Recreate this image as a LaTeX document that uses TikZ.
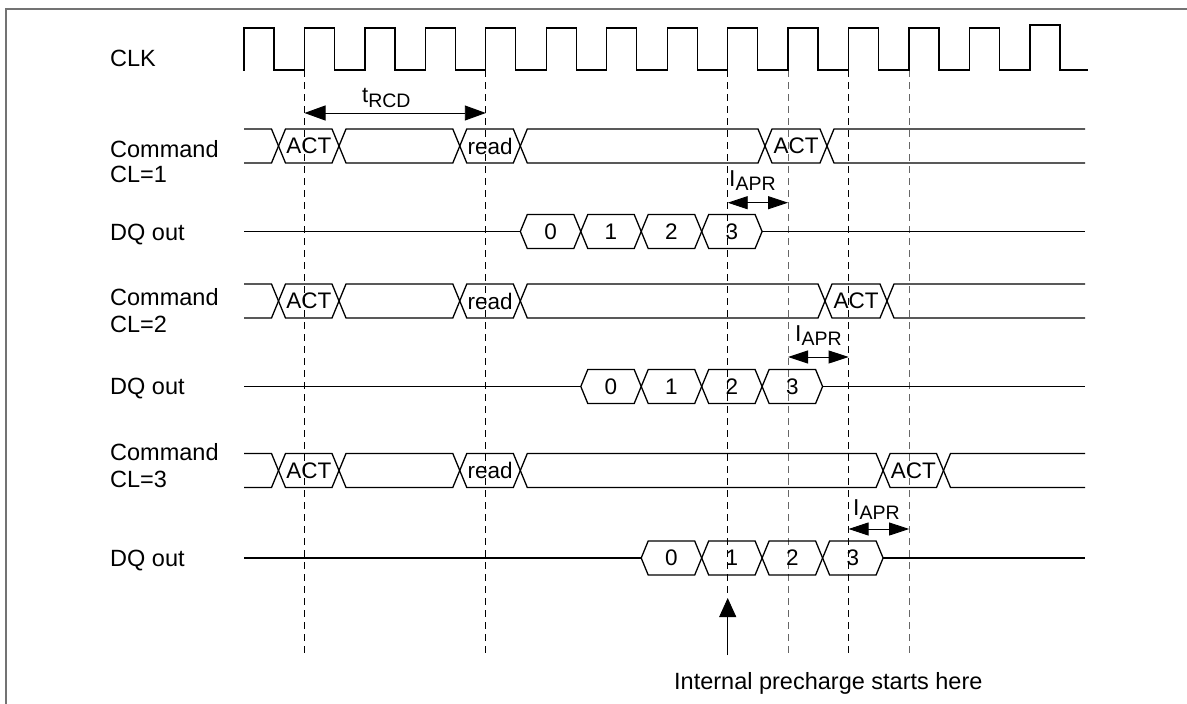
\documentclass[tikz,border=0pt]{standalone}
\usepackage{fontspec}
\setmainfont{Liberation Sans}
\usetikzlibrary{arrows.meta}

% crossing points of the buses
\def\cA{278.5}\def\cB{339}\def\cC{399.4}\def\cD{459.8}\def\cE{520.3}
\def\cF{580.8}\def\cG{641.2}\def\cH{701.7}\def\cI{762.1}\def\cJ{822.6}
\def\cK{883.1}\def\cL{943.5}
\def\busL{244}\def\busR{1085}

\newcommand{\hexcell}[5]{%
  \draw[sigline] (#1,#3) -- (#1+7,#3-17) -- (#2-7,#3-17) -- (#2,#3) -- (#2-7,#3+17) -- (#1+7,#3+17) -- cycle;
  \node[celltext] (#4) at ({(#1+#2)/2},#3) {#5};}
\newcommand{\hexwire}[3]{%
  \draw[sigline] (#1,#3) -- (#1+7,#3-17) -- (#2-7,#3-17) -- (#2,#3) -- (#2-7,#3+17) -- (#1+7,#3+17) -- cycle;}
\newcommand{\busopenL}[2]{%
  \draw[sigline] (\busL,#2-17) -- (#1-7,#2-17) -- (#1,#2) -- (#1-7,#2+17) -- (\busL,#2+17);}
\newcommand{\busopenR}[2]{%
  \draw[sigline] (\busR,#2-17) -- (#1+7,#2-17) -- (#1,#2) -- (#1+7,#2+17) -- (\busR,#2+17);}

\tikzset{
  sigline/.style={line width=1.3pt, line join=miter},
  celltext/.style={inner sep=0pt, font=\fontsize{22.5}{22.5}\selectfont},
  lbl/.style={inner sep=0pt, anchor=base west, font=\fontsize{23.5}{23.5}\selectfont},
  dashv/.style={line width=0.9pt, dash pattern=on 7pt off 5pt},
  dimarrow/.style={line width=0.9pt, {Triangle[length=20pt,width=13pt]}-{Triangle[length=20pt,width=13pt]}},
  framel/.style={line width=1.6pt, draw=black!55},
}

\begin{document}
\begin{tikzpicture}[x=1pt,y=-1pt]
\useasboundingbox (0,0) rectangle (1187,704);
\draw[framel] (6,704) -- (6,9) -- (1187,9);

% labels
\node[lbl] (lclk) at (110,66) {CLK};
\node[lbl] (lcmd1) at (110,157) {Command};
\node[lbl] (lcl1) at (110,182) {CL=1};
\node[lbl] (ldq1) at (110,240) {DQ out};
\node[lbl] (lcmd2) at (110,305) {Command};
\node[lbl] (lcl2) at (110,332) {CL=2};
\node[lbl] (ldq2) at (110,394) {DQ out};
\node[lbl] (lcmd3) at (110,460) {Command};
\node[lbl] (lcl3) at (110,487) {CL=3};
\node[lbl] (ldq3) at (110,566) {DQ out};

% dashed reference lines
\draw[dashv] (304.5,70) -- (304.5,655);
\draw[dashv] (485.8,70) -- (485.8,655);
\draw[dashv] (727.7,70) -- (727.7,598);
\draw[dashv, draw=black!60] (788.1,70) -- (788.1,655);
\draw[dashv] (848.6,70) -- (848.6,655);
\draw[dashv, draw=black!60] (909.1,70) -- (909.1,655);

% clock
\draw[sigline] (243,70) \foreach \k in {0,...,12} { -- ({244+60.46*\k},70) -- ({244+60.46*\k},28) -- ({274+60.46*\k},28) -- ({274+60.46*\k},70) }
  -- (1030,70) -- (1030,25) -- (1060,25) -- (1060,70) -- (1088,70);

% Command CL=1
\busopenL{\cA}{146}
\hexcell{\cA}{\cB}{146}{act1a}{ACT}
\hexwire{\cB}{\cD}{146}
\hexcell{\cD}{\cE}{146}{rd1}{read}
\hexwire{\cE}{765}{146}
\hexcell{765}{827}{146}{act1b}{ACT}
\busopenR{827}{146}

% DQ CL=1
\draw[sigline] (\busL,231.5) -- (\cE,231.5);
\hexcell{\cE}{\cF}{231.5}{d1a}{0}
\hexcell{\cF}{\cG}{231.5}{d1b}{1}
\hexcell{\cG}{\cH}{231.5}{d1c}{2}
\hexcell{\cH}{\cI}{231.5}{d1d}{3}
\draw[sigline] (\cI,231.5) -- (\busR,231.5);

% Command CL=2
\busopenL{\cA}{301}
\hexcell{\cA}{\cB}{301}{act2a}{ACT}
\hexwire{\cB}{\cD}{301}
\hexcell{\cD}{\cE}{301}{rd2}{read}
\hexwire{\cE}{825}{301}
\hexcell{825}{887}{301}{act2b}{ACT}
\busopenR{887}{301}

% DQ CL=2
\draw[sigline] (\busL,386.5) -- (\cF,386.5);
\hexcell{\cF}{\cG}{386.5}{d2a}{0}
\hexcell{\cG}{\cH}{386.5}{d2b}{1}
\hexcell{\cH}{\cI}{386.5}{d2c}{2}
\hexcell{\cI}{\cJ}{386.5}{d2d}{3}
\draw[sigline] (\cJ,386.5) -- (\busR,386.5);

% Command CL=3
\busopenL{\cA}{470.5}
\hexcell{\cA}{\cB}{470.5}{act3a}{ACT}
\hexwire{\cB}{\cD}{470.5}
\hexcell{\cD}{\cE}{470.5}{rd3}{read}
\hexwire{\cE}{\cK}{470.5}
\hexcell{\cK}{\cL}{470.5}{act3b}{ACT}
\busopenR{\cL}{470.5}

% DQ CL=3
\draw[sigline] (\busL,558) -- (\cG,558);
\hexcell{\cG}{\cH}{558}{d3a}{0}
\hexcell{\cH}{\cI}{558}{d3b}{1}
\hexcell{\cI}{\cJ}{558}{d3c}{2}
\hexcell{\cJ}{\cK}{558}{d3d}{3}
\draw[sigline] (\cK,558) -- (\busR,558);

% tRCD
\coordinate (rcdL) at (304.5,113);
\coordinate (rcdR) at (485.8,113);
\draw[line width=0.9pt, {Triangle[length=21pt,width=15pt]}-{Triangle[length=21pt,width=15pt]}] (rcdL) -- (rcdR);
\node[inner sep=0pt, anchor=base west] (trcd) at (362,102) {\fontsize{22}{22}\selectfont t\raisebox{-5pt}{\fontsize{19.5}{19.5}\selectfont RCD}};

% IAPR arrows
\coordinate (apr1L) at (727.7,202.7); \coordinate (apr1R) at (788.1,202.7);
\draw[dimarrow] (apr1L) -- (apr1R);
\node[inner sep=0pt, anchor=base west] (apr1) at (729,186) {\fontsize{23}{23}\selectfont I\raisebox{-4pt}{\fontsize{19.5}{19.5}\selectfont APR}};
\coordinate (apr2L) at (788.1,357); \coordinate (apr2R) at (848.6,357);
\draw[dimarrow] (apr2L) -- (apr2R);
\node[inner sep=0pt, anchor=base west] (apr2) at (795,341) {\fontsize{23}{23}\selectfont I\raisebox{-4pt}{\fontsize{19.5}{19.5}\selectfont APR}};
\coordinate (apr3L) at (848.6,529); \coordinate (apr3R) at (909.1,529);
\draw[dimarrow] (apr3L) -- (apr3R);
\node[inner sep=0pt, anchor=base west] (apr3) at (853,515) {\fontsize{23}{23}\selectfont I\raisebox{-4pt}{\fontsize{19.5}{19.5}\selectfont APR}};

% internal precharge arrow
\node[lbl] (pctext) at (674,689) {Internal precharge starts here};
\coordinate (pcS) at (727.7,655);
\coordinate (pcE) at (727.7,598);
\draw[line width=0.9pt, -{Triangle[length=19pt,width=17pt]}] (pcS) -- (pcE);
\end{tikzpicture}
\end{document}
